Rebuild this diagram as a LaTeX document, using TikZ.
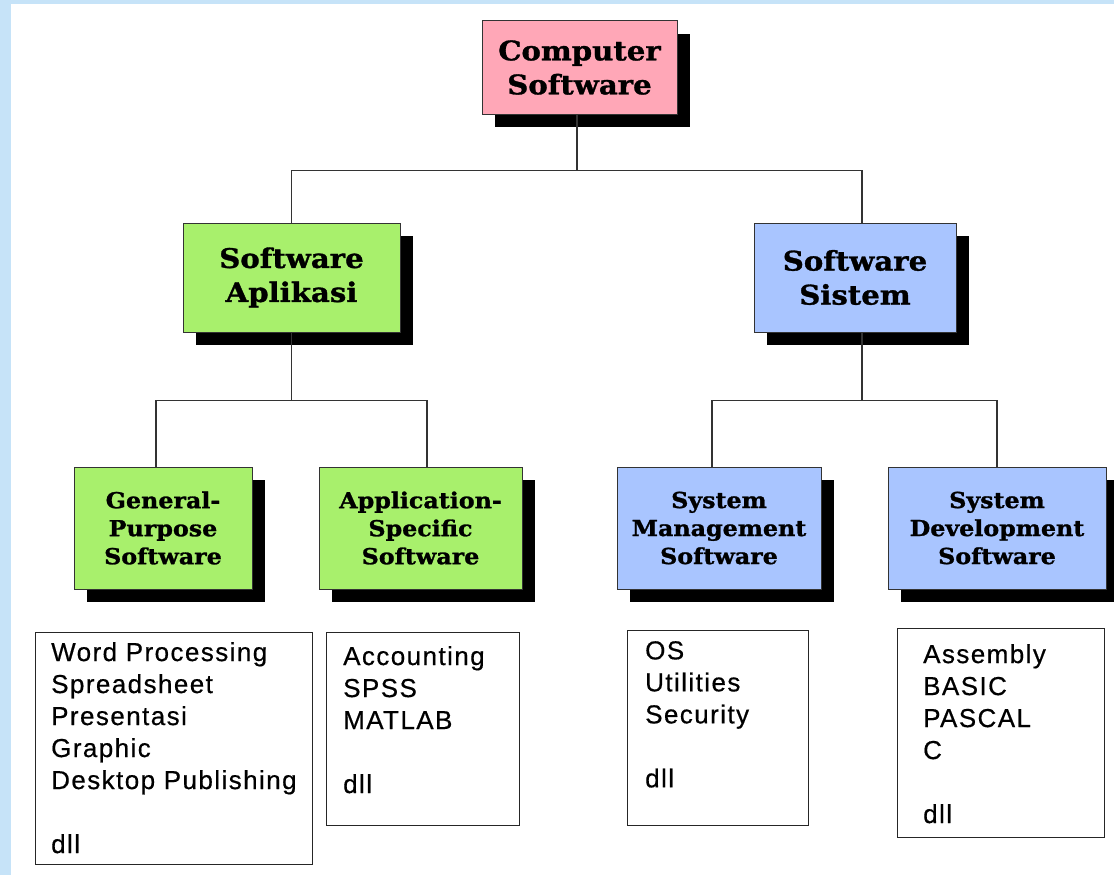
\documentclass[tikz,border=0pt]{standalone}
\usepackage{fontspec}
\setmainfont{Liberation Sans}
\newfontfamily\slab{DejaVu Serif}[FakeStretch=1.08, BoldFeatures={FakeBold=1.2}]
\newfontfamily\listfont{Liberation Sans}[LetterSpace=5.5, FakeBold=0.5]
\usetikzlibrary{shadows}
\definecolor{bgblue}{HTML}{C6E3F8}
\definecolor{cspink}{HTML}{FFA7B7}
\definecolor{apgreen}{HTML}{A8F06C}
\definecolor{sysblue}{HTML}{A9C5FF}
\definecolor{linegray}{HTML}{333333}
\begin{document}
\begin{tikzpicture}[x=1pt,y=-1pt,
  titlebox/.style={draw=linegray, line width=1pt, align=center, inner sep=0pt,
    drop shadow={shadow xshift=13pt, shadow yshift=-13pt, fill=black, opacity=1}},
  bigtitle/.style={titlebox, font=\slab\bfseries\fontsize{27}{34}\selectfont},
  smalltitle/.style={titlebox, font=\slab\bfseries\fontsize{22}{28}\selectfont,
    minimum height=122pt},
  conn/.style={draw=linegray, line width=1.5pt},
  listbox/.style={draw=black!85, line width=1.2pt, anchor=north west, inner sep=0pt},
  listtext/.style={anchor=north west, inner sep=0pt, align=left,
    font=\listfont\fontsize{26}{32}\selectfont}
]
\useasboundingbox (0,0) rectangle (1114,875);
\fill[bgblue] (0,0) rectangle (1114,875);
\fill[white] (11,4) rectangle (1114,875);

% level 1
\node[bigtitle, fill=cspink, minimum width=195pt, minimum height=93pt] (cs) at (579.5,67.5) {Computer\\Software};
% level 2
\node[bigtitle, fill=apgreen, minimum width=217pt, minimum height=109pt] (apl) at (291.5,277.5) {Software\\Aplikasi};
\node[bigtitle, fill=sysblue, minimum width=202pt, minimum height=109pt] (sis) at (855,277.5) {Software\\Sistem};
% level 3
\node[smalltitle, fill=apgreen, minimum width=178pt] (gp) at (163,528) {General-\\Purpose\\Software};
\node[smalltitle, fill=apgreen, minimum width=203pt] (as) at (420.5,528) {Application-\\Specific\\Software};
\node[smalltitle, fill=sysblue, minimum width=204pt] (sm) at (719,528) {System\\Management\\Software};
\node[smalltitle, fill=sysblue, minimum width=218pt] (sd) at (997,528) {System\\Development\\Software};

% connectors
\draw[conn] ([xshift=-2.5pt]cs.south) -- ++(0,56) coordinate (j1);
\draw[conn] (apl.north) |- (j1) -| ([xshift=7pt]sis.north);
\draw[conn] (apl.south) -- ++(0,68) coordinate (j2);
\draw[conn] ([xshift=-7pt]gp.north) |- (j2) -| ([xshift=6.5pt]as.north);
\draw[conn] ([xshift=7pt]sis.south) -- ++(0,68) coordinate (j3);
\draw[conn] ([xshift=-7pt]sm.north) |- (j3) -| (sd.north);

% lists
\node[listbox, minimum width=277pt, minimum height=232pt] (l1) at (35,632) {};
\node[listtext] (t1) at (51,642) {Word Processing\\Spreadsheet\\Presentasi\\Graphic\\Desktop Publishing\\[32pt]dll};
\node[listbox, minimum width=193pt, minimum height=193pt] (l2) at (326,632) {};
\node[listtext] (t2) at (343,646) {Accounting\\SPSS\\MATLAB\\[32pt]dll};
\node[listbox, minimum width=181pt, minimum height=195pt] (l3) at (627,630) {};
\node[listtext] (t3) at (645,641) {OS\\Utilities\\Security\\[32pt]dll};
\node[listbox, minimum width=207pt, minimum height=209pt] (l4) at (897,628) {};
\node[listtext] (t4) at (923,644) {Assembly\\BASIC\\PASCAL\\C\\[32pt]dll};
\end{tikzpicture}
\end{document}
